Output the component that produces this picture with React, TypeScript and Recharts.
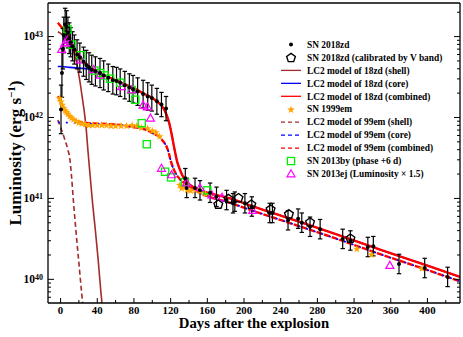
import React from 'react'
import { ComposedChart, Line, Scatter, XAxis, YAxis, ErrorBar, Legend } from 'recharts'

const SERIF = '"Liberation Serif", "Times New Roman", "DejaVu Serif", serif'
const BROWN = '#a52a2a'
const RED = '#ff0000'
const BLUE = '#0000ff'
const ORANGE = '#ffa500'
const GREEN = '#00ee00'
const MAGENTA = '#ff00ff'

const X_DOMAIN = [-13.7, 435.5]
const Y_DOMAIN = [5.1e39, 2.6e43]
const X_TICKS = [0, 20, 40, 60, 80, 100, 120, 140, 160, 180, 200, 220, 240, 260, 280, 300, 320, 340, 360, 380, 400, 420]
const Y_TICKS = [
  6e39, 7e39, 8e39, 9e39,
  1e40, 2e40, 3e40, 4e40, 5e40, 6e40, 7e40, 8e40, 9e40,
  1e41, 2e41, 3e41, 4e41, 5e41, 6e41, 7e41, 8e41, 9e41,
  1e42, 2e42, 3e42, 4e42, 5e42, 6e42, 7e42, 8e42, 9e42,
  1e43, 2e43,
]

// SN 2018zd bolometric points: day, log L, error (dex)
const zdDay = [0.5, 1.5, 2.5, 3.5, 5, 6.5, 8, 9.5, 11, 13, 15, 18, 21, 25, 28, 31, 34, 38, 43, 47, 52, 57, 61, 65, 70, 75, 79, 84, 90, 95, 99.5, 105, 110, 115, 136, 137.5, 146.6, 152, 163, 170, 181, 188, 190, 201, 208.5, 228, 231, 248, 259, 263, 272, 283, 307.6, 316, 335, 341, 369, 397, 422]
const zdLog = [42.1, 42.55, 42.85, 43.02, 43.15, 43.12, 43.05, 42.98, 42.93, 42.88, 42.84, 42.78, 42.74, 42.69, 42.65, 42.62, 42.59, 42.57, 42.55, 42.52, 42.49, 42.46, 42.45, 42.43, 42.4, 42.37, 42.35, 42.32, 42.29, 42.26, 42.24, 42.2, 42.16, 42.11, 41.25, 41.13, 41.13, 41.1, 41.07, 41.02, 40.98, 40.94, 40.96, 40.94, 40.9, 40.82, 40.82, 40.73, 40.75, 40.7, 40.65, 40.62, 40.5, 40.48, 40.4, 40.41, 40.19, 40.14, 40.03]
const zdErr = [0.3, 0.3, 0.25, 0.22, 0.2, 0.2, 0.19, 0.19, 0.18, 0.18, 0.18, 0.18, 0.18, 0.18, 0.18, 0.18, 0.18, 0.18, 0.18, 0.18, 0.17, 0.17, 0.17, 0.17, 0.17, 0.17, 0.17, 0.17, 0.17, 0.17, 0.16, 0.16, 0.15, 0.15, 0.12, 0.12, 0.12, 0.12, 0.12, 0.12, 0.12, 0.12, 0.12, 0.12, 0.12, 0.12, 0.12, 0.12, 0.12, 0.12, 0.12, 0.12, 0.12, 0.12, 0.12, 0.12, 0.12, 0.12, 0.12]

// SN 2018zd calibrated by V band
const zdvDay = [172, 183, 194, 208, 229, 249, 272, 316]
const zdvLog = [40.93, 41.0, 41.01, 40.93, 40.87, 40.81, 40.71, 40.51]

// SN 1999em
const emDay = [-1, 0.5, 2, 3.5, 5, 6.5, 8, 10, 12, 14, 17, 20, 23, 27, 31, 35, 40, 45, 50, 55, 60, 66, 72, 78, 83, 88, 95, 100, 104, 108, 130, 132, 135, 138, 142, 147, 152, 158, 323, 339, 394]
const emLog = [42.24, 42.2, 42.16, 42.12, 42.09, 42.07, 42.05, 42.02, 42.0, 41.98, 41.96, 41.94, 41.93, 41.92, 41.91, 41.91, 41.91, 41.91, 41.91, 41.9, 41.9, 41.9, 41.9, 41.91, 41.9, 41.88, 41.87, 41.84, 41.82, 41.77, 41.17, 41.13, 41.15, 41.11, 41.1, 41.11, 41.09, 41.06, 40.38, 40.31, 40.14]

// SN 2013by (phase +6 d)
const byDay = [7.5, 12, 22, 37, 43, 48, 54, 65, 77.5, 81.5, 88.5, 94, 114, 120.5, 135.6, 160]
const byLog = [43.09, 42.9, 42.77, 42.58, 42.55, 42.52, 42.48, 42.43, 42.34, 42.22, 41.93, 41.67, 41.33, 41.26, 41.2, 41.1]

// SN 2013ej (luminosity x 1.5)
const ejDay = [1.2, 4.8, 7.3, 10, 22, 36, 43, 66.6, 77.5, 90, 94.6, 98, 110, 121, 137.5, 152, 165, 176, 209.5, 359]
const ejLog = [42.84, 42.92, 42.95, 42.92, 42.71, 42.59, 42.52, 42.38, 42.34, 42.15, 42.13, 41.99, 41.37, 41.29, 41.19, 41.13, 41.04, 41.01, 40.85, 40.17]

// LC2 models of SN 2018zd
const zdShellDay = [-3, 0, 3, 6, 9, 12, 15, 18, 20, 22, 24, 26, 28, 30, 32, 35, 38, 41, 44, 46.5]
const zdShellLog = [43.06, 43.04, 43.01, 42.97, 42.93, 42.87, 42.78, 42.65, 42.52, 42.38, 42.22, 42.06, 41.85, 41.57, 41.31, 40.93, 40.6, 40.24, 39.84, 39.55]
const zdCoreDay = [-3, 0, 10, 20, 30, 40, 50, 60, 70, 80, 90, 100, 105, 110, 115, 118, 121, 124, 127, 130, 133, 137, 142, 150, 160, 185, 200, 250, 300, 350, 400, 435.5]
const zdCoreLog = [42.63, 42.63, 42.62, 42.61, 42.6, 42.56, 42.51, 42.46, 42.41, 42.36, 42.3, 42.24, 42.2, 42.15, 42.05, 41.95, 41.8, 41.62, 41.46, 41.36, 41.28, 41.21, 41.16, 41.11, 41.07, 41.0, 40.94, 40.75, 40.56, 40.36, 40.17, 40.03]
const zdCombDay = [-3, 0, 3, 6, 9, 12, 15, 18, 21, 24, 27, 30, 35, 40, 50, 60, 70, 80, 90, 100, 105, 110, 115, 118, 121, 124, 127, 130, 133, 137, 142, 150, 160, 185, 200, 250, 300, 350, 400, 435.5]
const zdCombLog = [43.17, 43.13, 43.09, 43.04, 42.98, 42.91, 42.85, 42.8, 42.75, 42.71, 42.67, 42.64, 42.6, 42.56, 42.51, 42.46, 42.41, 42.36, 42.3, 42.24, 42.2, 42.15, 42.05, 41.95, 41.8, 41.62, 41.46, 41.36, 41.28, 41.21, 41.16, 41.11, 41.07, 41.0, 40.94, 40.75, 40.56, 40.36, 40.17, 40.03]

// LC2 models of SN 1999em
const emShellDay = [-3, 0, 4, 8, 10, 12, 14, 17, 20, 23, 25.5]
const emShellLog = [41.97, 41.88, 41.75, 41.6, 41.5, 41.27, 40.97, 40.57, 40.2, 39.83, 39.55]
const emCoreDay = [-3, 0, 10, 20, 30, 50, 70, 80, 90, 95, 100, 105, 108, 110, 113, 116, 118, 120, 123, 126, 130, 135, 140, 150, 160, 185, 200, 250, 300, 350, 400, 435.5]
const emCoreLog = [41.94, 41.94, 41.935, 41.93, 41.925, 41.915, 41.9, 41.88, 41.86, 41.84, 41.81, 41.78, 41.76, 41.73, 41.69, 41.63, 41.56, 41.47, 41.37, 41.3, 41.24, 41.19, 41.15, 41.08, 41.03, 40.945, 40.885, 40.695, 40.505, 40.305, 40.115, 39.975]
const emCombDay = [-3, 0, 3, 6, 10, 15, 20, 30, 50, 70, 80, 90, 95, 100, 105, 108, 110, 113, 116, 118, 120, 123, 126, 130, 135, 140, 150, 160, 185, 200, 250, 300, 350, 400, 435.5]
const emCombLog = [42.26, 42.2, 42.13, 42.07, 42.01, 41.97, 41.95, 41.93, 41.92, 41.9, 41.88, 41.86, 41.84, 41.81, 41.78, 41.76, 41.73, 41.69, 41.63, 41.56, 41.47, 41.37, 41.3, 41.24, 41.19, 41.15, 41.08, 41.03, 40.945, 40.885, 40.695, 40.505, 40.305, 40.115, 39.975]

const LEGEND = [
  { label: 'SN 2018zd', kind: 'dot' },
  { label: 'SN 2018zd (calibrated by V band)', kind: 'pentagon' },
  { label: 'LC2 model of 18zd (shell)', kind: 'line', color: BROWN, dash: '' },
  { label: 'LC2 model of 18zd (core)', kind: 'line', color: BLUE, dash: '' },
  { label: 'LC2 model of 18zd (combined)', kind: 'line', color: RED, dash: '' },
  { label: 'SN 1999em', kind: 'star' },
  { label: 'LC2 model of 99em (shell)', kind: 'line', color: BROWN, dash: '4 3' },
  { label: 'LC2 model of 99em (core)', kind: 'line', color: BLUE, dash: '4 3' },
  { label: 'LC2 model of 99em (combined)', kind: 'line', color: RED, dash: '4 3' },
  { label: 'SN 2013by (phase +6 d)', kind: 'square' },
  { label: 'SN 2013ej (Luminosity \u00d7 1.5)', kind: 'triangle' },
]

const pts = (days: number[], logs: number[]) => days.map((d, i) => ({ day: d, L: Math.pow(10, logs[i]) }))

const zdData = zdDay.map((d, i) => {
  const v = Math.pow(10, zdLog[i])
  return { day: d, L: v, err: [v - Math.pow(10, zdLog[i] - zdErr[i]), Math.pow(10, zdLog[i] + zdErr[i]) - v] }
})

const ring = (cx: number, cy: number, n: number, R: number, r?: number) => {
  const out: string[] = []
  const m = r === undefined ? n : n * 2
  for (let k = 0; k < m; k++) {
    const a = -Math.PI / 2 + (k * 2 * Math.PI) / m
    const rad = r !== undefined && k % 2 === 1 ? r : R
    out.push(`${cx + rad * Math.cos(a)},${cy + rad * Math.sin(a)}`)
  }
  return out.join(' ')
}

const Dot = ({ cx, cy }: any) => <circle cx={cx} cy={cy} r={2} fill="#000" />
const Pentagon = ({ cx, cy }: any) => <polygon points={ring(cx, cy + 0.5, 5, 4.6)} fill="none" stroke="#000" strokeWidth={1.4} />
const Star = ({ cx, cy }: any) => <polygon points={ring(cx, cy + 0.5, 5, 4, 1.7)} fill={ORANGE} stroke="none" />
const Square = ({ cx, cy }: any) => <rect x={cx - 3.6} y={cy - 3.6} width={7.2} height={7.2} fill="none" stroke={GREEN} strokeWidth={1.3} />
const Triangle = ({ cx, cy }: any) => (
  <polygon points={`${cx},${cy - 4.3} ${cx - 4},${cy + 2.8} ${cx + 4},${cy + 2.8}`} fill="none" stroke={MAGENTA} strokeWidth={1.2} />
)

const isDecade = (v: number) => Math.abs(Math.log10(v) - Math.round(Math.log10(v))) < 1e-6

const LeftTick = ({ x, y, payload }: any) => {
  const v = payload.value
  const major = isDecade(v)
  return (
    <g>
      <line x1={x} x2={x + (major ? 6 : 3)} y1={y} y2={y} stroke="#000" strokeWidth={1} />
      {major && (
        <text x={x - 5} y={y + 3.8} textAnchor="end" fontFamily={SERIF} fontWeight="bold" fontSize={11.5} fill="#000">
          10<tspan dy={-3.6} fontSize={8}>{Math.round(Math.log10(v))}</tspan>
        </text>
      )}
    </g>
  )
}
const RightTick = ({ x, y, payload }: any) => {
  const major = isDecade(payload.value)
  return <line x1={x} x2={x - (major ? 6 : 3)} y1={y} y2={y} stroke="#000" strokeWidth={1} />
}
const BottomTick = ({ x, y, payload }: any) => {
  const major = payload.value % 40 === 0
  return (
    <g>
      <line x1={x} x2={x} y1={y} y2={y - (major ? 5 : 3)} stroke="#000" strokeWidth={1} />
      {major && (
        <text x={x} y={y + 11} textAnchor="middle" fontFamily={SERIF} fontWeight="bold" fontSize={10.8} fill="#000">
          {payload.value}
        </text>
      )}
    </g>
  )
}
const TopTick = ({ x, y, payload }: any) => {
  const major = payload.value % 40 === 0
  return <line x1={x} x2={x} y1={y} y2={y + (major ? 5 : 3)} stroke="#000" strokeWidth={1} />
}

const LegendBox = () => (
  <svg width={187} height={150} style={{ display: 'block' }}>
    {LEGEND.map((it, i) => {
      const cy = 7.5 + i * 12.95
      const cx = 15
      let sym: React.ReactNode = null
      if (it.kind === 'dot') sym = <Dot cx={cx} cy={cy} />
      else if (it.kind === 'pentagon') sym = <Pentagon cx={cx} cy={cy} />
      else if (it.kind === 'star') sym = <Star cx={cx} cy={cy} />
      else if (it.kind === 'square') sym = <Square cx={cx} cy={cy} />
      else if (it.kind === 'triangle') sym = <Triangle cx={cx} cy={cy} />
      else sym = <line x1={5} x2={25} y1={cy} y2={cy} stroke={it.color} strokeWidth={1.3} strokeDasharray={it.dash || undefined} />
      return (
        <g key={it.label}>
          {sym}
          <text x={31} y={cy + 3.2} fontFamily={SERIF} fontWeight="bold" fontSize={9.4} fill="#000">{it.label}</text>
        </g>
      )
    })}
  </svg>
)

const axisLine = { stroke: '#000', strokeWidth: 1.3 }

export default function App() {
  return (
    <div style={{ width: 463, height: 337, background: '#fff' }}>
      <style>{'body{margin:0}'}</style>
      <ComposedChart width={463} height={337} margin={{ top: 2, right: 2, left: 0, bottom: 0 }}>
        <XAxis
          xAxisId={0} dataKey="day" type="number" domain={X_DOMAIN} ticks={X_TICKS} allowDataOverflow
          height={34} tickSize={0} tickMargin={0} tick={<BottomTick />} tickLine={false} axisLine={axisLine} interval={0}
          label={{
            content: (p: any) => {
              const vb = p.viewBox
              return (
                <text x={vb.x + vb.width / 2} y={vb.y + 25} textAnchor="middle" fontFamily={SERIF} fontWeight="bold" fontSize={14.7} fill="#000">
                  Days after the explosion
                </text>
              )
            },
          }}
        />
        <XAxis
          xAxisId="top" orientation="top" type="number" domain={X_DOMAIN} ticks={X_TICKS} allowDataOverflow
          height={1} tickSize={0} tickMargin={0} tick={<TopTick />} tickLine={false} axisLine={axisLine} interval={0}
        />
        <YAxis
          yAxisId={0} scale="log" type="number" domain={Y_DOMAIN} ticks={Y_TICKS} allowDataOverflow
          width={48} tickSize={0} tickMargin={0} tick={<LeftTick />} tickLine={false} axisLine={axisLine} interval={0}
          label={{
            content: (p: any) => {
              const vb = p.viewBox
              const cy = vb.y + vb.height / 2
              return (
                <text x={20.5} y={cy} transform={`rotate(-90 20.5 ${cy})`} textAnchor="middle" fontFamily={SERIF} fontWeight="bold" fontSize={17} fill="#000">
                  Luminosity (erg s<tspan dy={-6} fontSize={11}>{'\u22121'}</tspan><tspan dy={6}>)</tspan>
                </text>
              )
            },
          }}
        />
        <YAxis
          yAxisId="right" orientation="right" scale="log" type="number" domain={Y_DOMAIN} ticks={Y_TICKS} allowDataOverflow
          width={1} tickSize={0} tickMargin={0} tick={<RightTick />} tickLine={false} axisLine={axisLine} interval={0}
        />
        <Legend
          layout="horizontal" verticalAlign="middle" align="center"
          wrapperStyle={{ left: 276, top: 37, width: 187, height: 150 }}
          content={() => <LegendBox />}
        />

        <Line data={pts(zdShellDay, zdShellLog)} dataKey="L" type="monotone" stroke={BROWN} strokeWidth={1.6} dot={false} isAnimationActive={false} />
        <Line data={pts(emShellDay, emShellLog)} dataKey="L" type="monotone" stroke={BROWN} strokeWidth={1.6} strokeDasharray="5 3" dot={false} isAnimationActive={false} />
        <Line data={pts(zdCoreDay, zdCoreLog)} dataKey="L" type="monotone" stroke={BLUE} strokeWidth={1.6} dot={false} isAnimationActive={false} />
        <Line data={pts(zdCombDay, zdCombLog)} dataKey="L" type="monotone" stroke={RED} strokeWidth={2.4} dot={false} isAnimationActive={false} />
        <Line data={pts(emCombDay, emCombLog)} dataKey="L" type="monotone" stroke={RED} strokeWidth={2.4} strokeDasharray="6 2" dot={false} isAnimationActive={false} />
        <Line data={pts(emCoreDay, emCoreLog)} dataKey="L" type="monotone" stroke={BLUE} strokeWidth={1.6} strokeDasharray="2 6" dot={false} isAnimationActive={false} />

        <Scatter data={pts(emDay, emLog)} dataKey="L" shape={(p: any) => <Star cx={p.cx} cy={p.cy} />} isAnimationActive={false} />
        <Scatter data={pts(byDay, byLog)} dataKey="L" shape={(p: any) => <Square cx={p.cx} cy={p.cy} />} isAnimationActive={false} />
        <Scatter data={pts(ejDay, ejLog)} dataKey="L" shape={(p: any) => <Triangle cx={p.cx} cy={p.cy} />} isAnimationActive={false} />
        <Scatter data={zdData} dataKey="L" shape={(p: any) => <Dot cx={p.cx} cy={p.cy} />} isAnimationActive={false}>
          <ErrorBar dataKey="err" direction="y" width={2.2} stroke="#000" strokeWidth={1.2} isAnimationActive={false} />
        </Scatter>
        <Scatter data={pts(zdvDay, zdvLog)} dataKey="L" shape={(p: any) => <Pentagon cx={p.cx} cy={p.cy} />} isAnimationActive={false} />
      </ComposedChart>
    </div>
  )
}
